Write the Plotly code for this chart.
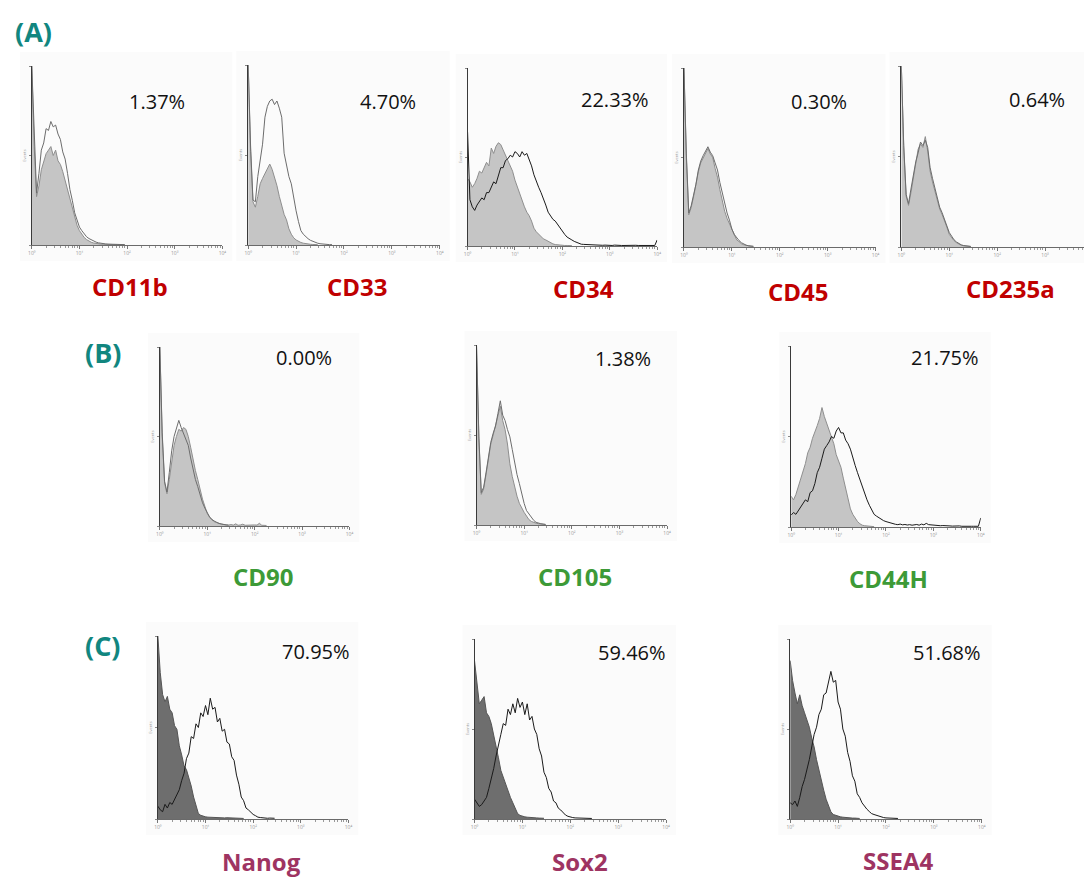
import math
import plotly.graph_objects as go

# ---------------------------------------------------------------------------
# Flow-cytometry histograms (log fluorescence, 80 channels = 4 decades).
# Each marker has an isotype control (filled) and a stained sample (outline).
# Values are % of the y-axis maximum for each channel.
# ---------------------------------------------------------------------------

# (A) haematopoietic markers
CD11B_ISO = [100, 55, 27, 33, 42, 46, 51, 53, 55, 50,
             53, 47, 45, 41, 36, 31, 26, 20, 15, 11,
             8, 6, 4.2, 3, 2.2, 1.5, 1.1, 0.8, 0.6, 0.5,
             0.4, 0.3, 0.4, 0.3, 0.2, 0.3, 0.2, 0.2, 0.3, 0.2]
CD11B_STAIN = [100, 58, 29, 40, 53, 57, 65, 64, 69, 66,
               67, 62, 59, 52, 48, 40, 31, 25, 18, 14,
               10, 8, 6, 4.6, 3.6, 2.8, 2.1, 1.6, 1.2, 0.9,
               0.8, 0.6, 0.5, 0.4, 0.5, 0.3, 0.4, 0.3, 0.3, 0.2]

CD33_ISO = [100, 52, 24, 21, 27, 34, 37, 40, 43, 45,
            42, 38, 33, 27, 22, 17, 14, 9, 6, 4,
            2.8, 2, 1.4, 1, 0.7, 0.5, 0.4, 0.3, 0.3, 0.2]
CD33_STAIN = [100, 55, 25, 24, 38, 47, 56, 71, 77, 80,
              81, 78, 80, 76, 71, 51, 44, 38, 34, 26,
              19, 13, 8, 6, 4.5, 3.5, 2.6, 2, 1.4, 1,
              0.7, 0.5, 0.4, 0.3, 0.2, 0.2]

CD34_ISO = [38, 36, 33, 35, 38, 42, 41, 44, 47, 45,
            55, 52, 56, 58, 57, 54, 51, 47, 45, 42,
            37, 33, 29, 25, 22, 19, 17, 14, 10, 8,
            6.5, 5, 4, 3.4, 2.5, 1.8, 1.2, 0.8, 0.6, 0.5,
            0.4, 0.3, 0.3, 0.2, 0.2]
CD34_STAIN = [64, 26, 22, 20, 23, 25, 27, 26, 30, 30,
              33, 36, 35, 40, 44, 44, 48, 49, 51, 50,
              53, 52, 50, 53, 51, 52, 49, 45, 40, 36,
              33, 30, 27, 23, 19, 17, 15, 14, 12, 10,
              8, 6.5, 5, 4, 3.4, 2.6, 2, 1.5, 1, 0.9,
              0.8, 0.6, 0.7, 0.5, 0.6, 0.4, 0.5, 0.4, 0.5, 0.3,
              0.4, 0.3, 0.5, 0.3, 0.4, 0.3, 0.3, 0.4, 0.3, 0.3,
              0.3, 0.4, 0.3, 0.3, 0.5, 0.3, 0.3, 0.4, 0.3, 0.3, 3.4]

CD45_ISO = [100, 50, 18, 22, 28, 36, 42, 47, 50, 53,
            55, 52, 50, 44, 39, 32, 26, 20, 16, 13,
            9, 6, 4, 3, 1.8, 1.2, 0.8, 0.6, 0.4, 0.3]
CD45_STAIN = [100, 52, 19, 23, 29, 35, 43, 48, 51, 54,
              56, 53, 51, 47, 43, 36, 30, 24, 19, 15,
              10, 7, 5, 3.6, 2.4, 1.6, 1, 0.7, 0.5, 0.4]

CD235A_ISO = [100, 55, 28, 23, 30, 39, 46, 54, 57, 55,
              61, 53, 42, 36, 31, 26, 21, 18, 15, 11,
              7, 5, 3.5, 2.4, 1.5, 1, 0.7, 0.5, 0.4, 0.3]
CD235A_STAIN = [100, 56, 29, 24, 32, 40, 47, 52, 58, 56,
                59, 55, 44, 38, 33, 27, 22, 19, 15, 12,
                8, 6, 4, 2.8, 1.8, 1.2, 0.8, 0.6, 0.4, 0.3]

# (B) mesenchymal markers
CD90_ISO = [100, 50, 24, 18, 26, 37, 45, 50, 54, 53,
            55, 54, 50, 44, 37, 31, 26, 20, 15, 11,
            7, 5, 3.5, 2.4, 2, 1.4, 1, 0.8, 0.6, 0.5,
            0.8, 0.5, 1.2, 0.4, 0.6, 1.0, 0.4, 0.5, 0.7, 0.4,
            0.6, 0.5, 1.5, 0.4, 0.5, 0.3]
CD90_STAIN = [100, 52, 25, 19, 30, 42, 50, 55, 59, 55,
              52, 48, 45, 38, 32, 26, 22, 17, 13, 10,
              7, 5, 3.5, 2.6, 2, 1.4, 1, 0.8, 0.6, 0.5]

CD105_ISO = [100, 48, 17, 20, 28, 38, 45, 50, 55, 60,
             66, 58, 53, 45, 34, 27, 21, 16, 12, 9,
             7, 5, 3, 2, 1.4, 1, 0.7, 0.5, 0.4, 0.3]
CD105_STAIN = [100, 49, 18, 21, 29, 38, 46, 51, 55, 62,
               69, 61, 58, 53, 49, 42, 34, 28, 23, 17,
               12, 8, 6, 4, 2.6, 1.5, 1, 0.7, 0.5, 0.3]

CD44H_ISO = [17, 15, 18, 22, 26, 30, 35, 41, 44, 49,
             52, 56, 60, 66, 61, 57, 54, 50, 46, 40,
             37, 33, 27, 21, 15, 10, 7, 5, 3, 1.8,
             1, 0.7, 0.5, 0.3, 0.2, 0.2]
CD44H_STAIN = [6.6, 8, 7, 9, 11, 13, 15, 14, 19, 20,
               24, 30, 33, 38, 43, 45, 47, 50, 49, 53,
               55, 52, 52, 48, 46, 43, 38, 34, 30, 26,
               22, 19, 15, 12, 9, 7, 6, 5, 4, 3.5,
               3, 2.6, 2, 1.8, 1.5, 1.3, 1.6, 1.2, 1.4, 1.1,
               1.3, 1.0, 1.2, 1.4, 1.0, 1.6, 1.2, 2.0, 1.3, 1.1,
               1.0, 0.8, 0.9, 0.7, 0.8, 0.6, 0.7, 0.6, 0.5, 0.6,
               0.5, 0.6, 0.4, 0.5, 0.4, 0.5, 0.4, 0.4, 0.5, 0.4, 5]

# (C) pluripotency markers
NANOG_ISO = [100, 80, 68, 64, 67, 60, 58, 51, 49, 40,
             35, 29, 27, 23, 18, 12, 7, 3, 2, 1.5,
             1.2, 1, 0.9, 1.1, 0.8, 0.9, 0.7, 0.8, 0.6, 0.7,
             0.6, 0.5, 0.6, 0.4, 0.5, 0.4, 0.3]
NANOG_STAIN = [7, 5, 4, 8, 6, 9, 8, 11, 14, 16,
               21, 25, 33, 36, 45, 44, 52, 50, 58, 56,
               62, 57, 66, 60, 61, 53, 55, 48, 49, 42,
               41, 34, 32, 24, 19, 12, 10, 6, 5, 3.5,
               2.5, 1.8, 1, 0.8, 0.6, 0.5, 0.4, 0.5, 0.3, 0.4]

SOX2_ISO = [88, 75, 64, 66, 68, 59, 57, 53, 47, 40,
            34, 27, 23, 19, 16, 12, 9, 6, 3, 2,
            1.5, 1.2, 1, 0.8, 0.9, 0.7, 0.6, 0.5, 0.6, 0.4]
SOX2_STAIN = [11, 9, 7, 8, 10, 12, 17, 22, 28, 35,
              42, 47, 53, 52, 61, 58, 64, 59, 67, 62,
              65, 58, 64, 55, 57, 50, 47, 39, 35, 26,
              23, 17, 15, 10, 9, 6, 5, 3.5, 2.2, 1.5,
              1, 0.8, 0.6, 0.5, 0.4, 0.5, 0.3, 0.4, 0.3, 0.3]

SSEA4_ISO = [88, 77, 70, 64, 69, 63, 59, 55, 51, 45,
             40, 33, 27, 21, 16, 11, 7, 4, 2.5, 2,
             1.5, 1.2, 1, 0.8, 0.7, 0.6, 0.5, 0.5, 0.4, 0.3]
SSEA4_STAIN = [9, 8, 10, 7, 12, 18, 22, 27, 33, 40,
               47, 51, 58, 61, 69, 70, 77, 82, 76, 77,
               65, 61, 50, 46, 37, 32, 24, 21, 14, 12,
               9, 7, 5.5, 4.2, 3, 2.5, 2, 1.5, 1, 0.8,
               0.6, 0.5, 0.5, 0.4, 0.3, 0.3]

MARKERS = ["CD11b", "CD33", "CD34", "CD45", "CD235a",
           "CD90", "CD105", "CD44H",
           "Nanog", "Sox2", "SSEA4"]
PERCENT_LABELS = ["1.37%", "4.70%", "22.33%", "0.30%", "0.64%",
                  "0.00%", "1.38%", "21.75%",
                  "70.95%", "59.46%", "51.68%"]
ISO_SERIES = [CD11B_ISO, CD33_ISO, CD34_ISO, CD45_ISO, CD235A_ISO,
              CD90_ISO, CD105_ISO, CD44H_ISO,
              NANOG_ISO, SOX2_ISO, SSEA4_ISO]
STAIN_SERIES = [CD11B_STAIN, CD33_STAIN, CD34_STAIN, CD45_STAIN, CD235A_STAIN,
                CD90_STAIN, CD105_STAIN, CD44H_STAIN,
                NANOG_STAIN, SOX2_STAIN, SSEA4_STAIN]
GROUP = ["A", "A", "A", "A", "A", "B", "B", "B", "C", "C", "C"]

# ---------------------------------------------------------------------------
# Page layout (pixels): axis box left, top, right, bottom for each panel
# ---------------------------------------------------------------------------
W, H = 1088, 879
BOXES = [
    (28, 66, 220, 245), (246, 65, 439, 245), (467, 68, 658, 246),
    (685, 68, 878, 247), (904, 66, 1097, 247),
    (157, 347, 348, 526), (476, 345, 668, 525), (793, 346, 984, 527),
    (155, 636, 347, 819), (474, 639, 667, 819), (792, 639, 985, 819),
]
PCT_POS = [(154, 102), (387, 102), (616, 100), (821, 101), (1041, 100),
           (302, 357), (624, 358), (948, 357),
           (314, 651), (633, 652), (950, 652)]
NAME_POS = [(127, 286), (356, 286), (584, 289), (800, 291), (1014, 289),
            (261, 576), (575, 576), (891, 578),
            (259, 861), (580, 861), (901, 860)]
SECTION_POS = {"A": (30, 32), "B": (100, 352), "C": (100, 645)}

NAME_COLOR = {"A": "#c00000", "B": "#3d9a37", "C": "#9e3462"}
SECTION_COLOR = "#11867f"
STYLE = {
    # isotype fill, isotype edge, stained outline
    "A": ("#c5c5c5", "#8e8e8e", "#6c6c6c"),
    "B": ("#c5c5c5", "#8e8e8e", "#6c6c6c"),
    "C": ("#6e6e6e", "#555555", "#1a1a1a"),
}
DARK_OUTLINE = {"CD34", "CD44H"}

DECADE_TICKS = [0, 20, 40, 60, 80]
DECADE_TEXT = ["10⁰", "10¹", "10²", "10³", "10⁴"]
MINOR_TICKS = [20 * d + 20 * math.log10(k) for d in range(4) for k in range(2, 10)]

fig = go.Figure()
layout = dict(
    width=W, height=H, autosize=False,
    margin=dict(l=0, r=0, t=0, b=0),
    paper_bgcolor="white", plot_bgcolor="rgba(0,0,0,0)",
    showlegend=False,
    font=dict(family="Open Sans, DejaVu Sans, sans-serif"),
)
shapes = []
annotations = []

for n, name in enumerate(MARKERS):
    left, top, right, bottom = BOXES[n]
    grp = GROUP[n]
    fill_c, edge_c, line_c = STYLE[grp]
    if name in DARK_OUTLINE:
        line_c = "#1a1a1a"
    sfx = "" if n == 0 else str(n + 1)

    # panels that run past the page edge are clipped at the right
    vis_right = min(right, W)
    x_max = 80 * (vis_right - left) / (right - left)

    layout["xaxis" + sfx] = dict(
        domain=[left / W, vis_right / W], anchor="y" + sfx,
        range=[0, x_max], showgrid=False, zeroline=False,
        showline=True, linecolor="#6a6a6a", linewidth=1,
        ticks="outside", ticklen=3, tickwidth=1, tickcolor="#777",
        tickvals=DECADE_TICKS, ticktext=DECADE_TEXT,
        tickfont=dict(size=5, color="#999"),
        minor=dict(tickvals=MINOR_TICKS, ticks="outside", ticklen=2,
                   tickcolor="#999", tickwidth=1),
        fixedrange=True,
    )
    layout["yaxis" + sfx] = dict(
        domain=[1 - bottom / H, 1 - top / H], anchor="x" + sfx,
        range=[0, 100], showgrid=False, zeroline=False,
        showline=True, linecolor="#3a3a3a", linewidth=1,
        ticks="outside", ticklen=2, tickcolor="#888",
        tickvals=[0, 50, 100], showticklabels=False,
        title=dict(text="Events", font=dict(size=4, color="#999"), standoff=2),
        fixedrange=True,
    )

    # faint panel backdrop
    shapes.append(dict(type="rect", xref="paper", yref="paper", layer="below",
                       x0=(left - 12) / W, x1=min(right + 10, W) / W,
                       y0=1 - (bottom + 16) / H, y1=1 - (top - 14) / H,
                       fillcolor="#fbfbfb", line=dict(width=0)))

    fig.add_trace(go.Scatter(
        y=ISO_SERIES[n], mode="lines", fill="tozeroy",
        fillcolor=fill_c, line=dict(color=edge_c, width=1),
        xaxis="x" + sfx, yaxis="y" + sfx, hoverinfo="skip"))
    fig.add_trace(go.Scatter(
        y=STAIN_SERIES[n], mode="lines",
        line=dict(color=line_c, width=1),
        xaxis="x" + sfx, yaxis="y" + sfx, hoverinfo="skip"))

    px, py = PCT_POS[n]
    annotations.append(dict(
        text=PERCENT_LABELS[n], xref="paper", yref="paper",
        x=px / W, y=1 - py / H, xanchor="center", yanchor="middle",
        showarrow=False, font=dict(size=20, color="#111")))
    nx, ny = NAME_POS[n]
    annotations.append(dict(
        text="<b>%s</b>" % name, xref="paper", yref="paper",
        x=nx / W, y=1 - ny / H, xanchor="center", yanchor="middle",
        showarrow=False, font=dict(size=24, color=NAME_COLOR[grp])))

for label, (sx, sy) in SECTION_POS.items():
    annotations.append(dict(
        text="<b>(%s)</b>" % label, xref="paper", yref="paper",
        x=sx / W, y=1 - sy / H, xanchor="center", yanchor="middle",
        showarrow=False, font=dict(size=27, color=SECTION_COLOR)))

layout["shapes"] = shapes
layout["annotations"] = annotations
fig.update_layout(**layout)

fig.write_html("out.html")
